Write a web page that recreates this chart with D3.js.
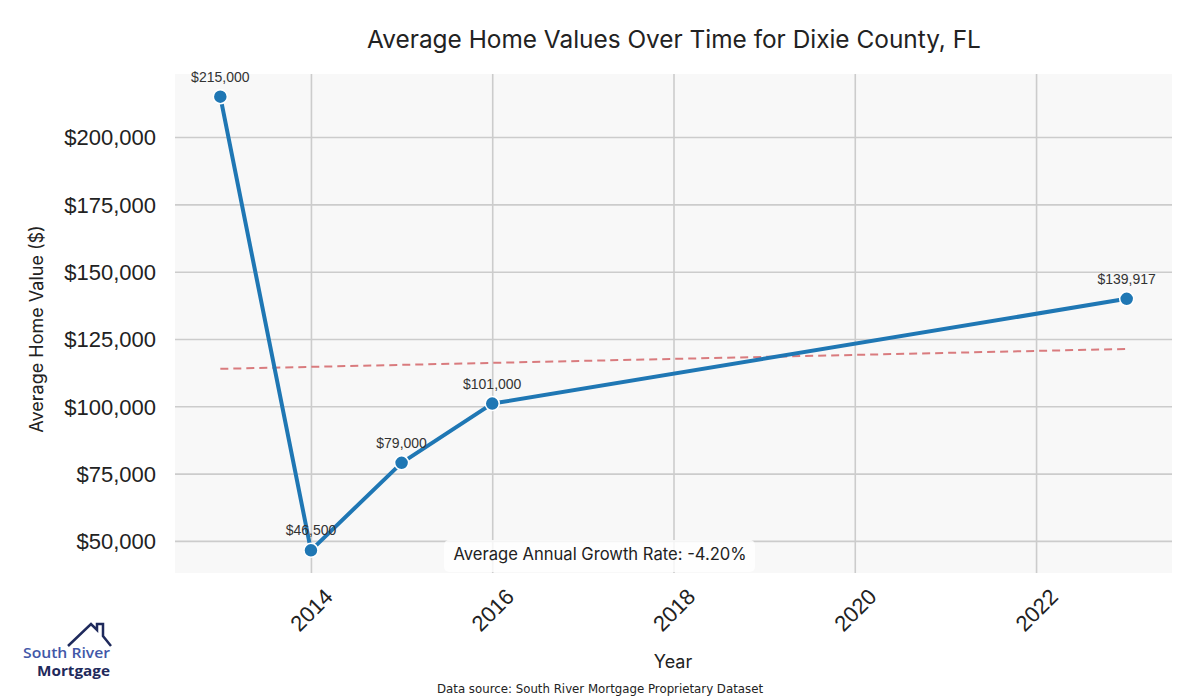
<!DOCTYPE html>
<html>
<head>
<meta charset="utf-8">
<script src="https://cdn.jsdelivr.net/npm/d3@7"></script>
<style>
  body { margin: 0; background: #fff; }
  .grid line { stroke: #cccccc; stroke-width: 1.6; }
  .grid path { display: none; }
  .tick text { font-family: "Liberation Sans", Arial, sans-serif; fill: #222; }
</style>
</head>
<body>
<div id="chart"></div>
<script>

var years  = [2013, 2014, 2015, 2016, 2023]
var values = [215000, 46500, 79000, 101000, 139917]
var labels = ["$215,000", "$46,500", "$79,000", "$101,000", "$139,917"]

// trend line ends
var trendYears  = [2013, 2023]
var trendValues = [113900, 121300]

var xTicks = [2014, 2016, 2018, 2020, 2022]
var yTicks = [50000, 75000, 100000, 125000, 150000, 175000, 200000]

var growthText = "Average Annual Growth Rate: -4.20%"

var margin = {top: 74, right: 28, bottom: 127, left: 175}
	,width  = 1200 - margin.left - margin.right
	,height = 700 - margin.top - margin.bottom

var x = d3.scaleLinear()
	.domain([2012.5, 2023.5])
	.range([0, width])

var y = d3.scaleLinear()
	.domain([38075, 223425])
	.range([height, 0])

var svg = d3.select('#chart')
	.append('svg')
	.attr('width', 1200)
	.attr('height', 700)

var main = svg.append('g')
	.attr('transform', 'translate(' + margin.left + ',' + margin.top + ')')

// plot background
main.append('rect')
	.attr('width', width)
	.attr('height', height)
	.attr('fill', '#f8f8f8')

// gridlines
main.append('g')
	.attr('class', 'grid')
	.attr('transform', 'translate(0,' + height + ')')
	.call(d3.axisBottom(x).tickValues(xTicks).tickSize(-height).tickFormat(''))

main.append('g')
	.attr('class', 'grid')
	.call(d3.axisLeft(y).tickValues(yTicks).tickSize(-width).tickFormat(''))

// y tick labels
var yAxis = main.append('g')
	.call(d3.axisLeft(y).tickValues(yTicks).tickSize(0).tickPadding(19)
		.tickFormat(function(d){ return '$' + d3.format(',')(d) }))
yAxis.select('.domain').remove()
yAxis.selectAll('text').attr('font-size', 22).attr('dy', '0.36em')

// x tick labels, rotated
var xAxis = main.append('g')
	.attr('transform', 'translate(0,' + height + ')')
	.call(d3.axisBottom(x).tickValues(xTicks).tickSize(0).tickFormat(d3.format('d')))
xAxis.select('.domain').remove()
xAxis.selectAll('text')
	.attr('font-size', 22)
	.attr('y', 0)
	.attr('dy', '0.35em')
	.attr('text-anchor', 'middle')
	.attr('transform', 'translate(0,37)rotate(-45)')

// trend line
main.append('path')
	.datum(d3.zip(trendYears, trendValues))
	.attr('fill', 'none')
	.attr('stroke', '#d97b7e')
	.attr('stroke-width', 2)
	.attr('stroke-dasharray', '8,5')
	.attr('d', d3.line().x(function(d){ return x(d[0]) }).y(function(d){ return y(d[1]) }))

// main series
var pts = d3.zip(years, values, labels)

main.append('path')
	.datum(pts)
	.attr('fill', 'none')
	.attr('stroke', '#1f77b4')
	.attr('stroke-width', 4)
	.attr('stroke-linejoin', 'round')
	.attr('d', d3.line().x(function(d){ return x(d[0]) }).y(function(d){ return y(d[1]) }))

main.selectAll('circle.pt')
	.data(pts)
	.enter().append('circle')
	.attr('class', 'pt')
	.attr('cx', function(d){ return x(d[0]) })
	.attr('cy', function(d){ return y(d[1]) })
	.attr('r', 7)
	.attr('fill', '#1f77b4')
	.attr('stroke', '#fff')
	.attr('stroke-width', 1.5)

main.selectAll('text.lbl')
	.data(pts)
	.enter().append('text')
	.attr('class', 'lbl')
	.attr('x', function(d){ return x(d[0]) })
	.attr('y', function(d){ return y(d[1]) - 15 })
	.attr('text-anchor', 'middle')
	.attr('font-family', '"Liberation Sans", Arial, sans-serif')
	.attr('font-size', 14)
	.attr('fill', '#333')
	.text(function(d){ return d[2] })

// growth rate box
main.append('rect')
	.attr('x', 444 - margin.left)
	.attr('y', 540 - margin.top)
	.attr('width', 311)
	.attr('height', 32)
	.attr('rx', 5)
	.attr('fill', '#fff')
	.attr('fill-opacity', 0.8)

main.append('text')
	.attr('x', 600 - margin.left)
	.attr('y', 560 - margin.top)
	.attr('text-anchor', 'middle')
	.attr('font-family', 'Inter, sans-serif')
	.attr('font-size', 16.6)
	.attr('fill', '#222')
	.text(growthText)

// titles
svg.append('text')
	.attr('x', 674)
	.attr('y', 48)
	.attr('text-anchor', 'middle')
	.attr('font-family', 'Inter, sans-serif')
	.attr('font-size', 24.4)
	.attr('fill', '#222')
	.text('Average Home Values Over Time for Dixie County, FL')

svg.append('text')
	.attr('x', 673)
	.attr('y', 668)
	.attr('text-anchor', 'middle')
	.attr('font-family', 'Inter, sans-serif')
	.attr('font-size', 18)
	.attr('fill', '#222')
	.text('Year')

svg.append('text')
	.attr('text-anchor', 'middle')
	.attr('transform', 'translate(43,329)rotate(-90)')
	.attr('font-family', 'Inter, sans-serif')
	.attr('font-size', 18)
	.attr('fill', '#222')
	.text('Average Home Value ($)')

svg.append('text')
	.attr('x', 600)
	.attr('y', 693)
	.attr('text-anchor', 'middle')
	.attr('font-family', '"Liberation Sans Narrow", "DejaVu Sans", sans-serif')
	.attr('font-size', 12)
	.attr('textLength', 326)
	.attr('lengthAdjust', 'spacingAndGlyphs')
	.attr('fill', '#222')
	.text('Data source: South River Mortgage Proprietary Dataset')

// logo
var logo = svg.append('g')
logo.append('path')
	.attr('d', 'M68,646 L91,624 L97,630 L97,624 L103,624 L103,636 L111,646')
	.attr('fill', 'none')
	.attr('stroke', '#1f2a5c')
	.attr('stroke-width', 2.5)
logo.append('text')
	.attr('x', 110).attr('y', 658)
	.attr('text-anchor', 'end')
	.attr('font-family', '"Open Sans", sans-serif')
	.attr('font-weight', 600)
	.attr('font-size', 15)
	.attr('textLength', 87)
	.attr('lengthAdjust', 'spacingAndGlyphs')
	.attr('fill', '#4257a8')
	.text('South River')
logo.append('text')
	.attr('x', 110).attr('y', 676)
	.attr('text-anchor', 'end')
	.attr('font-family', '"Open Sans", sans-serif')
	.attr('font-weight', 700)
	.attr('font-size', 15)
	.attr('textLength', 73)
	.attr('lengthAdjust', 'spacingAndGlyphs')
	.attr('fill', '#1f2a5c')
	.text('Mortgage')

</script>
</body>
</html>
